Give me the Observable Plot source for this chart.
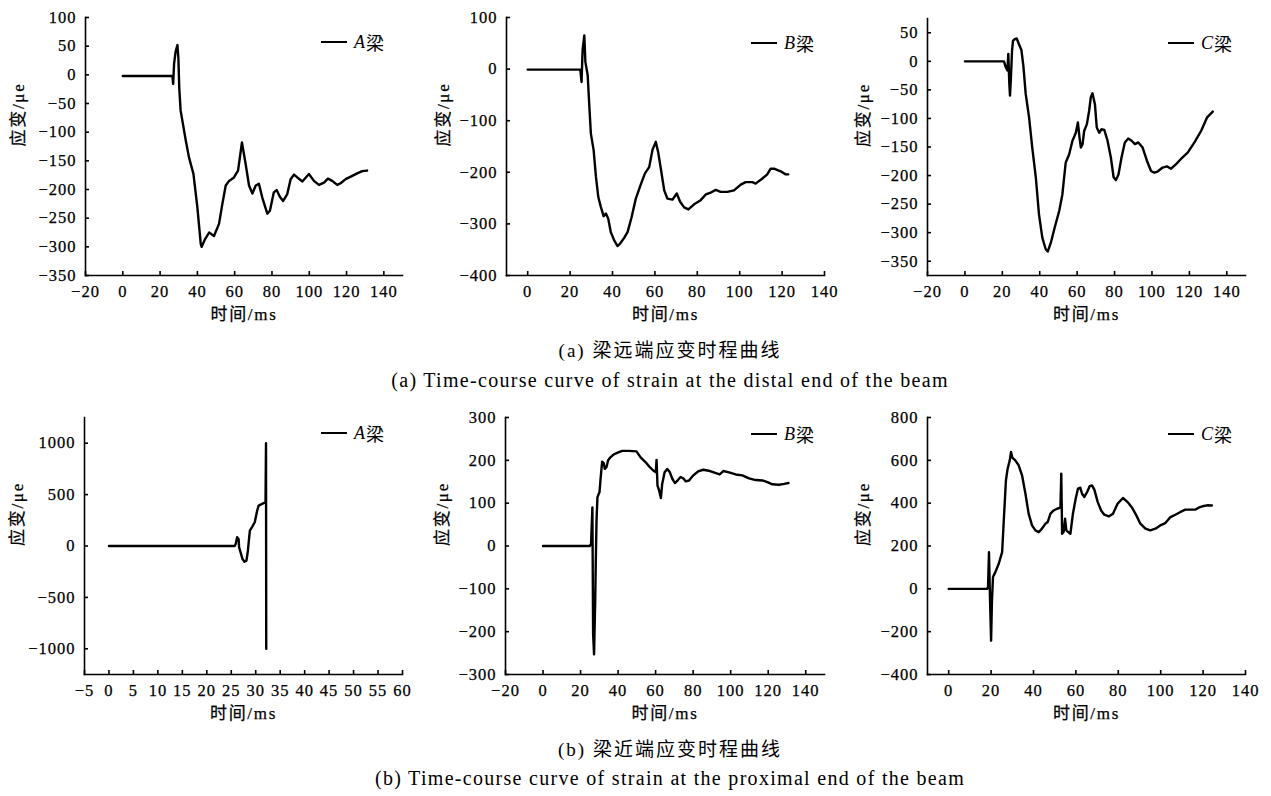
<!DOCTYPE html>
<html><head><meta charset="utf-8">
<script src="https://cdn.jsdelivr.net/npm/d3@7"></script>
<script src="https://cdn.jsdelivr.net/npm/@observablehq/plot@0.6"></script>
<style>
body{margin:0;background:#fff;}
#wrap{position:relative;width:1271px;height:796px;overflow:hidden;background:#fff;font-family:"Liberation Serif","Noto Sans CJK SC",serif;color:#000;}
.panel{position:absolute;}
.legend{position:absolute;height:24px;font-size:18px;display:flex;align-items:center;white-space:nowrap;}
.legend .sw{display:inline-block;width:26px;height:0;border-top:2.4px solid #000;margin-right:7px;}
.legend i{margin-right:1px;}
.cap{position:absolute;left:270px;width:800px;text-align:center;white-space:nowrap;line-height:24px;}
.zh{font-size:19px;letter-spacing:2px;}
.en{font-size:20px;letter-spacing:1.3px;}
</style></head>
<body><div id="wrap"></div>
<script>
// ---- data: [time (ms), strain (με)] ----
const distalA = [[0,-2],[26.6,-2],[27.0,-16],[27.5,19],[28.3,40],[29.3,52],[29.8,30],[30.3,-24],[31.0,-62],[33.8,-115],[35.5,-144],[37.9,-173],[40.0,-231],[41.8,-295],[42.3,-300],[43.9,-288],[46.3,-275],[48.9,-281],[51.6,-260],[53.4,-225],[55.2,-193],[57.0,-185],[59.6,-179],[61.8,-167],[63.9,-118],[65.9,-156],[67.7,-193],[69.5,-207],[71.3,-193],[73.0,-190],[74.8,-214],[77.5,-242],[78.9,-237],[81.0,-205],[82.5,-201],[84.3,-213],[86.0,-220],[88.2,-208],[90.0,-182],[91.8,-174],[93.6,-179],[96.3,-186],[99.8,-173],[102.5,-185],[105.2,-192],[107.9,-188],[110.0,-181],[112.3,-185],[115.0,-192],[116.8,-189],[119.5,-182],[122.0,-178],[125.7,-172],[128.4,-168],[131.0,-167]];
const distalB = [[0,-1],[24.8,-1],[25.4,-25],[25.9,37],[26.7,65],[27.2,14],[28.3,-12],[29.0,-67],[29.8,-125],[31.1,-157],[32.2,-209],[33.3,-248],[34.5,-267],[35.8,-285],[36.9,-280],[38.0,-290],[39.2,-316],[40.8,-332],[42.4,-343],[43.6,-338],[45.5,-327],[47.1,-316],[49.0,-287],[51.0,-251],[53.4,-223],[55.3,-202],[57.3,-190],[58.9,-156],[60.4,-141],[61.5,-160],[62.8,-193],[64.4,-235],[65.9,-251],[68.3,-253],[70.3,-241],[71.9,-257],[73.8,-268],[75.8,-272],[78.5,-262],[81.6,-254],[84.0,-243],[86.0,-240],[88.7,-234],[91.0,-238],[94.2,-238],[97.3,-235],[100.5,-224],[102.8,-219],[106.0,-219],[107.5,-222],[110.7,-212],[113.0,-204],[114.6,-193],[116.2,-193],[119.3,-198],[121.7,-204],[122.9,-204]];
const distalC = [[0,0],[20.9,0],[21.8,-10],[22.7,-16],[23.2,13],[23.75,-40],[24.1,-60],[24.6,-28],[25.2,19],[25.7,36],[26.6,39],[27.7,40],[28.9,30],[30.2,20],[31.25,-8],[32.5,-57],[34.3,-98],[36.0,-151],[37.9,-203],[39.6,-268],[41.4,-309],[43.2,-329],[44.3,-333],[45.9,-318],[48.0,-291],[50.4,-262],[52.1,-233],[53.9,-177],[55.7,-163],[57.5,-139],[59.3,-125],[60.4,-107],[61.25,-133],[62.0,-151],[62.9,-145],[63.75,-122],[65.2,-110],[66.4,-87],[67.3,-63],[68.2,-56],[69.5,-75],[70.5,-116],[71.8,-125],[73.0,-119],[74.5,-120],[76.25,-139],[78.0,-168],[79.5,-203],[80.7,-208],[82.1,-198],[83.75,-168],[85.5,-142],[87.3,-135],[89.1,-139],[90.9,-145],[92.7,-142],[95.0,-151],[97.3,-174],[99.5,-192],[101.25,-195],[103.0,-193],[105.7,-186],[108.0,-184],[110.2,-188],[112.9,-180],[115.5,-171],[119.1,-160],[122.7,-142],[126.25,-122],[129.5,-98],[132.5,-88]];
const proximalA = [[0,0],[25.7,0],[25.9,20],[26.2,85],[26.5,68],[26.6,-13],[26.9,-62],[27.3,-127],[27.7,-153],[28.1,-143],[28.4,-46],[28.8,150],[29.3,189],[29.8,231],[30.3,345],[30.6,393],[31.3,410],[32.0,426],[32.1,1000],[32.15,-1000]];
const proximalB = [[0,0],[24.9,0],[25.6,5],[26.3,90],[26.7,-206],[27.2,-253],[27.8,-128],[28.1,-42],[28.5,59],[29.0,114],[30.1,126],[30.6,153],[31.5,197],[32.4,193],[32.9,180],[33.8,184],[34.7,200],[35.9,207],[37.7,214],[40.4,219],[42.2,222],[45.7,222],[49.8,221],[52.0,207],[54.6,196],[56.9,184],[59.1,175],[60.1,172],[60.5,201],[61.0,141],[61.9,129],[62.8,112],[63.5,145],[64.8,172],[66.2,180],[67.6,172],[68.9,157],[70.3,147],[71.9,154],[73.3,161],[74.7,158],[76.0,151],[77.8,153],[80.1,165],[82.6,174],[85.4,178],[89.0,175],[92.9,169],[94.1,167],[96.1,175],[99.1,172],[102.7,167],[106.2,165],[109.8,158],[113.3,154],[116.9,153],[119.6,149],[122.2,144],[125.8,143],[128.5,145],[130.8,147]];
const proximalC = [[0,0],[18.1,0],[18.55,8],[19.0,171],[19.5,-55],[20.0,-242],[20.4,-55],[20.9,55],[22.0,78],[23.6,117],[25.2,171],[25.9,304],[27.0,507],[27.8,561],[28.8,600],[29.4,639],[30.0,613],[31.4,600],[33.0,577],[34.6,530],[36.2,444],[37.7,351],[39.3,296],[40.9,273],[42.5,265],[44.0,281],[45.6,304],[46.7,312],[48.0,351],[49.5,366],[51.1,374],[52.7,379],[53.1,538],[53.5,257],[54.2,265],[54.9,327],[55.5,273],[56.4,265],[57.4,257],[58.6,351],[59.9,421],[61.0,468],[62.1,472],[62.9,444],[64.0,429],[65.3,452],[66.5,479],[67.6,483],[68.7,463],[70.3,405],[71.9,366],[73.4,346],[75.5,338],[77.5,351],[79.7,398],[82.2,424],[84.4,405],[86.5,379],[88.5,343],[90.4,304],[92.8,281],[95.1,273],[97.5,281],[99.8,296],[102.2,307],[104.6,335],[106.9,346],[109.3,359],[111.6,370],[114.0,370],[116.4,370],[117.9,379],[120.3,387],[121.9,390],[124.2,389]];

// ---- ticks ----
const xTicks20 = [-20, 0, 20, 40, 60, 80, 100, 120, 140];
const xTicks0 = [0, 20, 40, 60, 80, 100, 120, 140];
const xTicks5 = [-5, 0, 5, 10, 15, 20, 25, 30, 35, 40, 45, 50, 55, 60];
const yTicksDA = [-350, -300, -250, -200, -150, -100, -50, 0, 50, 100];
const yTicksDB = [-400, -300, -200, -100, 0, 100];
const yTicksDC = [-350, -300, -250, -200, -150, -100, -50, 0, 50];
const yTicksPA = [-1000, -500, 0, 500, 1000];
const yTicksPB = [-300, -200, -100, 0, 100, 200, 300];
const yTicksPC = [-400, -200, 0, 200, 400, 600, 800];

// ---- text ----
const beamNames = ["A", "B", "C"];
const xLabel = "时间/ms";
const yLabel = "应变/μe";
const captionA = ["(a) 梁远端应变时程曲线", "(a) Time-course curve of strain at the distal end of the beam"];
const captionB = ["(b) 梁近端应变时程曲线", "(b) Time-course curve of strain at the proximal end of the beam"];

const SERIF = '"Liberation Serif","Noto Sans CJK SC",serif';
const fmt = d => d < 0 ? "\u2212" + Math.abs(d) : String(d);

const panels = [
  {data: distalA, beam: 0, xd: [-20, 150], xt: xTicks20, yd: [-350, 100], yt: yTicksDA, left: 0, top: 0, ml: 85, mt: 17, w: 422, h: 335, yl: 67, leg: [321, 42]},
  {data: distalB, beam: 1, xd: [-10, 140], xt: xTicks0, yd: [-400, 100], yt: yTicksDB, left: 421, top: 0, ml: 85, mt: 17, w: 423, h: 335, yl: 63, leg: [751, 43]},
  {data: distalC, beam: 2, xd: [-20, 150], xt: xTicks20, yd: [-375, 75], yt: yTicksDC, left: 842, top: 0, ml: 85, mt: 18, w: 423, h: 335, yl: 64, leg: [1168, 43]},
  {data: proximalA, beam: 0, xd: [-5, 60], xt: xTicks5, yd: [-1250, 1250], yt: yTicksPA, left: 0, top: 400, ml: 84, mt: 17, w: 422, h: 334, yl: 67, leg: [321, 433]},
  {data: proximalB, beam: 1, xd: [-20, 150], xt: xTicks20, yd: [-300, 300], yt: yTicksPB, left: 420, top: 400, ml: 85, mt: 17, w: 424, h: 334, yl: 63, leg: [751, 434]},
  {data: proximalC, beam: 2, xd: [-10, 140], xt: xTicks0, yd: [-400, 800], yt: yTicksPC, left: 842, top: 400, ml: 85, mt: 17, w: 423, h: 334, yl: 64, leg: [1168, 434]}
];

const wrap = document.getElementById("wrap");

for (const p of panels) {
  const chart = Plot.plot({
    width: p.w, height: p.h,
    marginLeft: p.ml, marginRight: 20, marginTop: p.mt, marginBottom: 60,
    style: {background: "transparent", color: "#000", overflow: "visible"},
    x: {domain: p.xd},
    y: {domain: p.yd},
    marks: [
      Plot.frame({anchor: "left", stroke: "#000", strokeWidth: 1.6}),
      Plot.frame({anchor: "bottom", stroke: "#000", strokeWidth: 1.6}),
      Plot.axisX({ticks: p.xt, tickSize: -4, tickPadding: 14, strokeWidth: 1.6, label: null, tickFormat: fmt, fill: "#000"}),
      Plot.axisY({ticks: p.yt, tickSize: -4, tickPadding: 13, strokeWidth: 1.6, label: null, tickFormat: fmt, fill: "#000"}),
      Plot.line(p.data, {x: d => d[0], y: d => d[1], stroke: "#000", strokeWidth: 2.4, strokeLinejoin: "round"}),
      Plot.text([xLabel], {text: d => d, frameAnchor: "bottom", dy: 44, fill: "#000"}),
      Plot.text([yLabel], {text: d => d, frameAnchor: "left", dx: -p.yl, rotate: -90, fill: "#000"})
    ]
  });
  // typography applied directly to every text element
  chart.querySelectorAll("text").forEach(t => {
    const s = t.textContent;
    t.style.fontFamily = SERIF;
    t.style.fill = "#000";
    t.style.stroke = "#000";
    t.style.strokeWidth = "0.25px";
    if (s === xLabel || s === yLabel) {
      t.style.fontSize = "17px";
      t.style.letterSpacing = "1.7px";
    } else {
      t.style.fontSize = "16.5px";
      t.style.letterSpacing = "1px";
    }
  });
  chart.classList.add("panel");
  chart.style.left = p.left + "px";
  chart.style.top = p.top + "px";
  wrap.appendChild(chart);

  const lg = document.createElement("div");
  lg.className = "legend";
  lg.style.left = p.leg[0] + "px";
  lg.style.top = (p.leg[1] - 12) + "px";
  lg.innerHTML = '<span class="sw"></span><i>' + beamNames[p.beam] + '</i><span>梁</span>';
  wrap.appendChild(lg);
}

function caption(lines, topZh, topEn) {
  const a = document.createElement("div");
  a.className = "cap zh"; a.style.top = topZh + "px"; a.textContent = lines[0];
  const b = document.createElement("div");
  b.className = "cap en"; b.style.top = topEn + "px"; b.textContent = lines[1];
  wrap.appendChild(a); wrap.appendChild(b);
}
caption(captionA, 339, 368);
caption(captionB, 738, 766);
</script>
</body></html>
